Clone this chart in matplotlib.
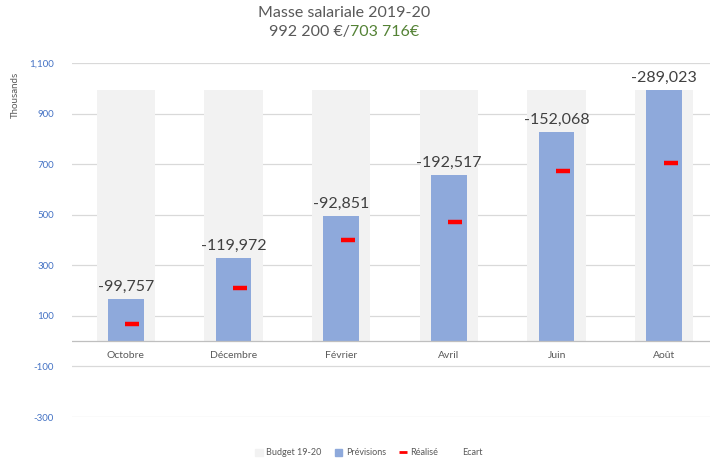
import matplotlib
matplotlib.use("Agg")
import matplotlib.pyplot as plt
from matplotlib.patches import Patch
from matplotlib.lines import Line2D

plt.rcParams["font.family"] = ["Lato", "DejaVu Sans"]

# --- data (thousands of €) ---
mois = ["Octobre", "Décembre", "Février", "Avril", "Juin", "Août"]
budget = [992.2, 992.2, 992.2, 992.2, 992.2, 992.2]
previsions = [166, 328, 494, 656, 826, 992.7]
realise = [68, 210, 402, 472, 674, 703.7]
ecart = [-99757, -119972, -92851, -192517, -152068, -289023]
yticks = [-300, -100, 100, 300, 500, 700, 900, 1100]

GRIS_TXT = "#595959"
BLEU = "#8EA9DB"
GRIS_BUDGET = "#F2F2F2"

fig = plt.figure(figsize=(7.1, 4.65), dpi=100)
ax = fig.add_axes([0.1014, 0.1032, 0.91, 0.7613])

x = list(range(len(mois)))
ax.bar(x, budget, width=0.54, color=GRIS_BUDGET, zorder=2)
ax.bar(x, previsions, width=0.33, color=BLEU, zorder=3)
ax.plot([i + 0.06 for i in x], realise, linestyle="none", marker="_",
        ms=10, mew=3.2, color="#FF0000", zorder=4)

# Ecart labels above the forecast bars
for i, (p, e) in enumerate(zip(previsions, ecart)):
    ax.annotate(f"{e:,}", (i, p), xytext=(0, 4), textcoords="offset points",
                ha="center", va="bottom", fontsize=11.5, color="#404040", zorder=5)

# category labels under zero line
for i, m in enumerate(mois):
    ax.annotate(m, (i, 0), xytext=(0, -7), textcoords="offset points",
                ha="center", va="top", fontsize=7.5, color=GRIS_TXT)

ax.set_xlim(-0.5, len(mois) - 0.5)
ax.set_ylim(-300, 1100)
ax.set_yticks(yticks)
ax.set_yticklabels([f"{v:,}" for v in yticks], color="#4472C4", fontsize=7)
ax.tick_params(axis="y", length=0, pad=13)
ax.set_xticks([])
for s in ax.spines.values():
    s.set_visible(False)
for v in yticks:
    ax.axhline(v, color="#D9D9D9", lw=0.9, zorder=1)
ax.axhline(0, color="#BFBFBF", lw=0.9, zorder=3)

fig.text(0.022, 0.795, "Thousands", rotation=90, ha="center", va="center",
         fontsize=7, color=GRIS_TXT)

# title
fig.text(0.485, 0.972, "Masse salariale 2019-20", ha="center", va="center",
         fontsize=11.5, color=GRIS_TXT)
fig.text(0.493, 0.932, "992 200 €/", ha="right", va="center", fontsize=11.5, color=GRIS_TXT)
fig.text(0.493, 0.932, "703 716€", ha="left", va="center", fontsize=11.5, color="#548235")

handles = [Patch(color=GRIS_BUDGET), Patch(color=BLEU),
           Line2D([], [], color="#FF0000", lw=0, marker="_", ms=6, mew=2),
           Patch(color="none")]
fig.legend(handles, ["Budget 19-20", "Prévisions", "Réalisé", "Ecart"],
           loc="center", bbox_to_anchor=(0.52, 0.026), ncol=4, frameon=False,
           fontsize=6.5, labelcolor=GRIS_TXT, handlelength=0.8, handleheight=0.8,
           handletextpad=0.4, columnspacing=1.5)

fig.savefig("out.png", dpi=100)
